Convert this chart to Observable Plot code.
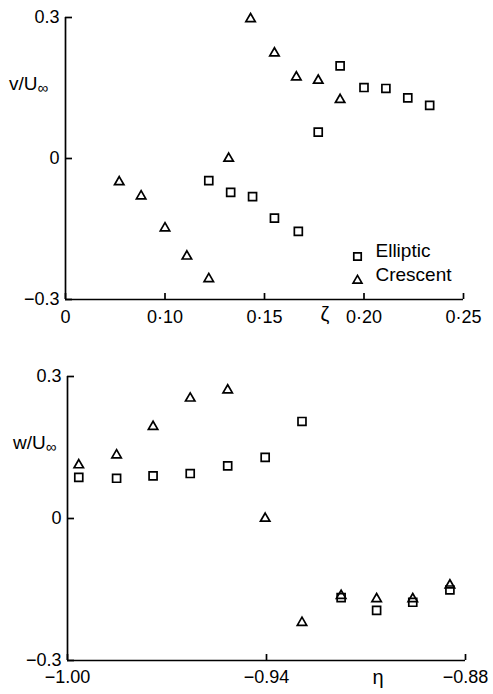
<!DOCTYPE html>
<html><head><meta charset="utf-8">
<script src="https://cdn.jsdelivr.net/npm/d3@7"></script>
<script src="https://cdn.jsdelivr.net/npm/@observablehq/plot@0.6"></script>
<style>body{margin:0;background:#fff} #chart svg{display:block}</style>
</head><body><div id="chart"></div>
<script>
// ---- top panel: v/U∞ vs ζ (axis origin labelled "0" sits at ζ = 0.05, broken axis)
const zetaTicks = [0.05, 0.10, 0.15, 0.20, 0.25];
const zetaTickLabels = ["0", "0·10", "0·15", "0·20", "0·25"];
const vTicks = [-0.3, 0, 0.3];
const vTickLabels = ["−0.3", "0", "0.3"];
const zetaElliptic = [0.122, 0.133, 0.144, 0.155, 0.167, 0.177, 0.188, 0.200, 0.211, 0.222, 0.233];
const vElliptic    = [-0.047, -0.072, -0.081, -0.127, -0.155, 0.056, 0.197, 0.151, 0.149, 0.129, 0.113];
const zetaCrescent = [0.077, 0.088, 0.100, 0.111, 0.122, 0.132, 0.143, 0.155, 0.166, 0.177, 0.188];
const vCrescent    = [-0.050, -0.080, -0.148, -0.208, -0.256, 0.000, 0.297, 0.224, 0.173, 0.166, 0.125];

// ---- bottom panel: w/U∞ vs η
const etaTicks = [-1.00, -0.94, -0.88];
const etaTickLabels = ["−1.00", "−0.94", "−0.88"];
const wTicks = [-0.3, 0, 0.3];
const wTickLabels = ["−0.3", "0", "0.3"];
const eta = [-0.9966, -0.9852, -0.9742, -0.9630, -0.9517, -0.9404, -0.9293, -0.9175, -0.9068, -0.8959, -0.8847];
const wElliptic = [0.087, 0.085, 0.090, 0.095, 0.111, 0.129, 0.205, -0.167, -0.194, -0.177, -0.151];
const wCrescent = [0.113, 0.134, 0.194, 0.254, 0.271, 0.000, -0.220, -0.163, -0.170, -0.170, -0.141];

const seriesNames = ["Elliptic", "Crescent"];

const FONT = "'Liberation Sans', Arial, sans-serif";
const SW = 1.7;
const TICKFONT = 18;
const pts = (xs, ys) => xs.map((x, i) => ({x, y: ys[i]}));
const lab = (ticks, labels) => d => labels[ticks.findIndex(t => Math.abs(t - d) < 1e-9)];

function symbolMarks(el, cr) {
  return [
    Plot.dot(el, {x: "x", y: "y", symbol: "square", r: 4.5, stroke: "#000", strokeWidth: SW, fill: "none"}),
    Plot.dot(cr, {x: "x", y: "y", symbol: "triangle", r: 3.5, stroke: "#000", strokeWidth: SW, fill: "none"})
  ];
}

function axes(xTicks, xLabels, yTicks, yLabels, xPad) {
  return [
    Plot.ruleX([xTicks[0]], {stroke: "#000", strokeWidth: SW}),
    Plot.ruleY([yTicks[0]], {stroke: "#000", strokeWidth: SW}),
    // inward tick marks (drawn outward then shifted inside)
    Plot.axisX({ticks: xTicks, tickSize: 6, dy: -6, tickFormat: () => "", label: null, strokeWidth: SW}),
    Plot.axisX({ticks: xTicks, tickSize: 0, tickPadding: xPad, tickFormat: lab(xTicks, xLabels), label: null, fontSize: TICKFONT}),
    Plot.axisY({ticks: yTicks, tickSize: 7, dx: 7, tickFormat: () => "", label: null, strokeWidth: SW}),
    Plot.axisY({ticks: yTicks, tickSize: 0, tickPadding: 6, tickFormat: lab(yTicks, yLabels), label: null, fontSize: TICKFONT})
  ];
}

const topPlot = Plot.plot({
  width: 493, height: 340,
  marginTop: 17, marginBottom: 41, marginLeft: 65, marginRight: 30,
  x: {domain: [0.05, 0.25]},
  y: {domain: [-0.3, 0.3]},
  style: {fontFamily: FONT, fontSize: "18px", color: "#000", background: "#fff"},
  marks: [
    ...axes(zetaTicks, zetaTickLabels, vTicks, vTickLabels, 11),
    ...symbolMarks(pts(zetaElliptic, vElliptic), pts(zetaCrescent, vCrescent)),
    Plot.dot([seriesNames[0]], {frameAnchor: "bottom-right", dx: -106, dy: -43, symbol: "square", r: 4.2, stroke: "#000", strokeWidth: SW, fill: "none"}),
    Plot.dot([seriesNames[1]], {frameAnchor: "bottom-right", dx: -106, dy: -19, symbol: "triangle", r: 3.3, stroke: "#000", strokeWidth: SW, fill: "none"}),
    Plot.text([seriesNames[0]], {frameAnchor: "bottom-right", dx: -88, dy: -43, text: d => d, textAnchor: "start", fontSize: 19, fill: "#000", style: {letterSpacing: "1.5px"}}),
    Plot.text([seriesNames[1]], {frameAnchor: "bottom-right", dx: -88, dy: -19, text: d => d, textAnchor: "start", fontSize: 19, fill: "#000", style: {letterSpacing: "1.5px"}}),
    Plot.text(["ζ"], {frameAnchor: "bottom-left", dx: 255, dy: 21, text: d => d, fontSize: 20, fill: "#000"})
  ]
});

const botPlot = Plot.plot({
  width: 493, height: 354,
  marginTop: 36, marginBottom: 34, marginLeft: 67, marginRight: 28,
  x: {domain: [-1.00, -0.88]},
  y: {domain: [-0.3, 0.3]},
  style: {fontFamily: FONT, fontSize: "18px", color: "#000", background: "#fff"},
  marks: [
    ...axes(etaTicks, etaTickLabels, wTicks, wTickLabels, 10),
    ...symbolMarks(pts(eta, wElliptic), pts(eta, wCrescent)),
    Plot.text(["η"], {frameAnchor: "bottom-left", dx: 305, dy: 23, text: d => d, fontSize: 20, fill: "#000"})
  ]
});

function addYLabel(svg, letter, x, y) {
  const t = d3.select(svg).append("text")
    .attr("x", x).attr("y", y).attr("text-anchor", "start")
    .attr("font-family", FONT).attr("font-size", 19).attr("fill", "#000");
  t.append("tspan").text(letter + "/U");
  t.append("tspan").attr("dy", 3).attr("font-size", 15).text("∞");
}
addYLabel(topPlot, "v", 9, 90);
addYLabel(botPlot, "w", 13, 109);

document.getElementById("chart").append(topPlot, botPlot);
</script></body></html>
